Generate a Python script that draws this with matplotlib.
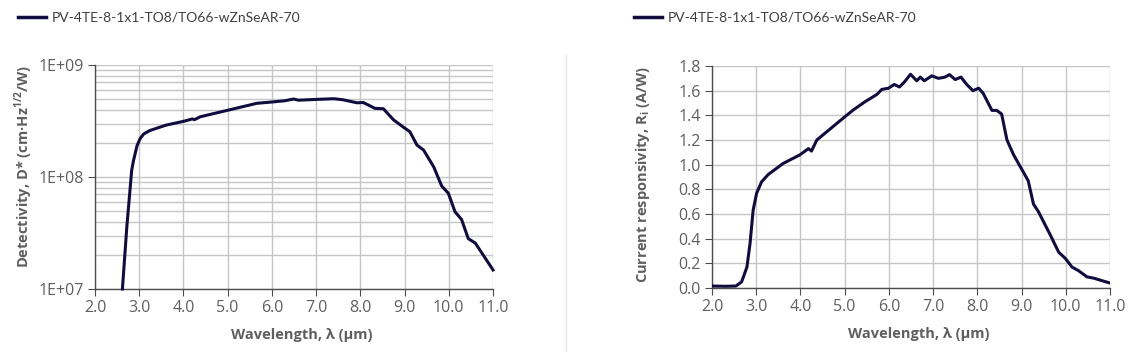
import matplotlib.pyplot as plt
from matplotlib.ticker import LogLocator, NullFormatter
from matplotlib.lines import Line2D

plt.rcParams['font.family'] = ['Open Sans', 'DejaVu Sans']
plt.rcParams['mathtext.fontset'] = 'custom'
plt.rcParams['mathtext.bf'] = 'Open Sans:bold'
plt.rcParams['mathtext.rm'] = 'Open Sans'

# Datos
serie = 'PV-4TE-8-1x1-TO8/TO66-wZnSeAR-70'

lam_d = [2.62, 2.72, 2.78, 2.83, 2.87, 2.905, 2.95, 3.02, 3.1, 3.24, 3.6, 4.03,
         4.2, 4.25, 4.38, 5.02, 5.66, 6.02, 6.3, 6.49, 6.6, 7.01, 7.4, 7.6,
         7.92, 8.07, 8.33, 8.52, 8.75, 9.01, 9.12, 9.28, 9.43, 9.66, 9.84, 9.99,
         10.14, 10.29, 10.44, 10.6, 10.75, 11.0]
det = [1.0e7, 3.6e7, 6.8e7, 1.15e8, 1.4e8, 1.6e8, 1.9e8, 2.2e8, 2.42e8, 2.6e8,
       2.9e8, 3.16e8, 3.3e8, 3.25e8, 3.45e8, 3.96e8, 4.55e8, 4.68e8, 4.8e8,
       4.97e8, 4.85e8, 4.93e8, 5.0e8, 4.9e8, 4.6e8, 4.62e8, 4.1e8, 4.07e8,
       3.24e8, 2.72e8, 2.54e8, 1.93e8, 1.74e8, 1.23e8, 8.3e7, 7.16e7, 4.9e7,
       4.17e7, 2.82e7, 2.57e7, 2.09e7, 1.48e7]

lam_r = [2.02, 2.3, 2.54, 2.67, 2.79, 2.86, 2.93, 3.01, 3.12, 3.27, 3.61, 3.99,
         4.18, 4.25, 4.37, 4.74, 5.01, 5.2, 5.46, 5.73, 5.84, 5.99, 6.12, 6.24,
         6.35, 6.49, 6.63, 6.71, 6.8, 6.97, 7.12, 7.27, 7.37, 7.5, 7.63, 7.76,
         7.9, 8.03, 8.13, 8.33, 8.44, 8.55, 8.67, 8.82, 9.04, 9.15, 9.27, 9.38,
         9.65, 9.84, 9.99, 10.14, 10.29, 10.48, 10.63, 11.0]
resp = [0.016, 0.014, 0.016, 0.05, 0.17, 0.36, 0.63, 0.77, 0.86, 0.92, 1.01,
        1.08, 1.13, 1.11, 1.2, 1.31, 1.39, 1.445, 1.51, 1.57, 1.61, 1.62, 1.65,
        1.63, 1.67, 1.733, 1.68, 1.71, 1.68, 1.72, 1.70, 1.71, 1.73, 1.69, 1.71,
        1.65, 1.60, 1.62, 1.58, 1.44, 1.44, 1.41, 1.2, 1.08, 0.94, 0.87, 0.68,
        0.62, 0.43, 0.29, 0.24, 0.17, 0.14, 0.09, 0.08, 0.04]

xticks = [2.0, 3.0, 4.0, 5.0, 6.0, 7.0, 8.0, 9.0, 10.0, 11.0]

color_linea = '#100c3e'
gris = '#5f5f5f'
gris_grid = '#c6c6c6'

fig = plt.figure(figsize=(11.35, 3.52), dpi=100)
ax1 = fig.add_axes([95/1135, 1-289/352, 398/1135, 224/352])
ax2 = fig.add_axes([712/1135, 1-288/352, 398/1135, 222/352])

def estilo(ax):
    for s in ['top', 'right']:
        ax.spines[s].set_visible(False)
    for s in ['left', 'bottom']:
        ax.spines[s].set_color('#4d4d4d')
        ax.spines[s].set_linewidth(1.0)
    ax.set_xlim(2.0, 11.0)
    ax.set_xticks(xticks)
    ax.set_xticklabels(['%.1f' % t for t in xticks])
    ax.tick_params(which='major', direction='out', length=5, color='#4d4d4d',
                   labelsize=11.5, labelcolor=gris, pad=3)
    ax.tick_params(which='minor', length=0)
    ax.grid(True, which='both', color=gris_grid, linewidth=1.0)
    ax.set_axisbelow(True)
    ax.set_xlabel('Wavelength, λ (μm)', fontsize=10.5, color=gris,
                  fontweight='bold')
    ax.xaxis.set_label_coords(0.52, -0.175)

# Detectividad
ax1.plot(lam_d, det, color=color_linea, lw=2.2, clip_on=False, zorder=3)
ax1.set_yscale('log')
ax1.set_ylim(1e7, 1e9)
ax1.set_yticks([1e7, 1e8, 1e9])
ax1.set_yticklabels(['1E+07', '1E+08', '1E+09'])
ax1.yaxis.set_minor_locator(LogLocator(base=10, subs=range(2, 10)))
ax1.yaxis.set_minor_formatter(NullFormatter())
estilo(ax1)
ax1.set_ylabel(r'Detectivity, D* (cm·Hz$^{\mathbf{1/2}}$/W)', fontsize=10.5,
               color=gris, fontweight='bold')
ax1.yaxis.set_label_coords(-0.15, 0.545)

# Responsividad
ax2.plot(lam_r, resp, color=color_linea, lw=2.2, zorder=3)
ax2.set_ylim(0, 1.8)
ax2.set_yticks([0.0, 0.2, 0.4, 0.6, 0.8, 1.0, 1.2, 1.4, 1.6, 1.8])
ax2.set_yticklabels(['%.1f' % v for v in ax2.get_yticks()])
estilo(ax2)
ax2.set_ylabel(r'Current responsivity, R$_{\mathbf{i}}$ (A/W)', fontsize=10.5,
               color=gris, fontweight='bold')
ax2.yaxis.set_label_coords(-0.15, 0.51)

# Leyendas
for x0 in [18, 634]:
    fig.add_artist(Line2D([x0/1135, (x0+28)/1135], [1-17/352, 1-17/352],
                          color=color_linea, lw=2.5))
    fig.text((x0+34)/1135, 1-17/352, serie, fontsize=10, color='#404040',
             va='center', ha='left', family=['Lato', 'DejaVu Sans'])

# Separador
fig.add_artist(Line2D([566/1135, 566/1135], [0, 1-55/352],
                      color='#e6e6e6', lw=1.0))

fig.savefig('out.png', dpi=100)
